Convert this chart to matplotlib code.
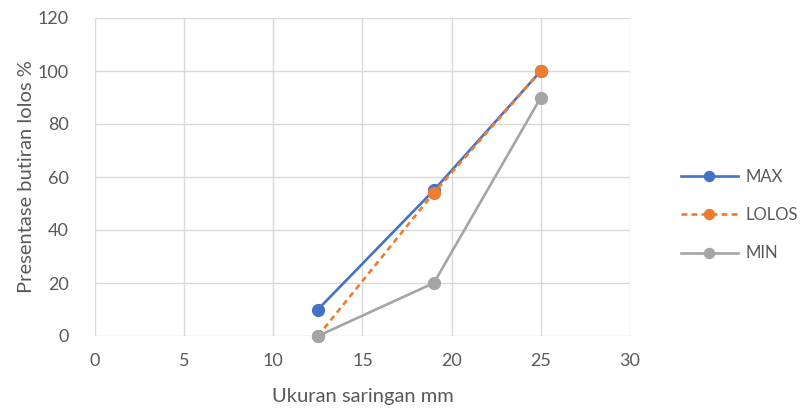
import matplotlib
matplotlib.use("Agg")
import matplotlib.pyplot as plt
from matplotlib.lines import Line2D

plt.rcParams['font.family'] = ['Lato', 'DejaVu Sans']

sizes = [12.5, 19, 25]
max_vals = [10, 55, 100]
lolos_vals = [0, 54, 100]
min_vals = [0, 20, 90]
x_ticks = [0, 5, 10, 15, 20, 25, 30]
y_ticks = [0, 20, 40, 60, 80, 100, 120]

fig = plt.figure(figsize=(8.03, 4.09), dpi=100)
ax = fig.add_axes([95/803, 1-336/409, (630-95)/803, (336-18)/409])

c_max = '#4472C4'
c_lolos = '#ED7D31'
c_min = '#A5A5A5'
lw = 1.9
ms = 8.5
dash = (0, (2.2, 1.6))

ax.plot(sizes, max_vals, color=c_max, lw=lw, marker='o', ms=ms, zorder=3, clip_on=False)
ax.plot(sizes, lolos_vals, color=c_lolos, lw=lw, ls=dash, marker='o', ms=ms, zorder=4, clip_on=False)
ax.plot(sizes, min_vals, color=c_min, lw=lw, marker='o', ms=ms, zorder=5, clip_on=False)

ax.set_xlim(0, 30)
ax.set_ylim(0, 120)
ax.set_xticks(x_ticks)
ax.set_yticks(y_ticks)
ax.grid(True, color='#D9D9D9', lw=1.0)
ax.set_axisbelow(True)
for s in ax.spines.values():
    s.set_visible(False)
ax.tick_params(length=0, labelsize=13, colors='#595959', pad=12)
ax.tick_params(axis='y', pad=19)

ax.set_xlabel('Ukuran saringan mm', fontsize=14.5, color='#595959', labelpad=14)
ax.set_ylabel('Presentase butiran lolos %', fontsize=14.5, color='#595959', labelpad=2)

handles = [
    Line2D([], [], color=c_max, lw=lw, marker='o', ms=ms*0.85),
    Line2D([], [], color=c_lolos, lw=lw, ls=dash, marker='o', ms=ms*0.85),
    Line2D([], [], color=c_min, lw=lw, marker='o', ms=ms*0.85),
]
fig.legend(handles, ['MAX', 'LOLOS', 'MIN'], loc='center left',
           bbox_to_anchor=(666/803, 1-215/409), frameon=False,
           fontsize=12, labelcolor='#595959', handlelength=3.4,
           labelspacing=1.35, handletextpad=0.45)

fig.savefig('out.png', dpi=100)
